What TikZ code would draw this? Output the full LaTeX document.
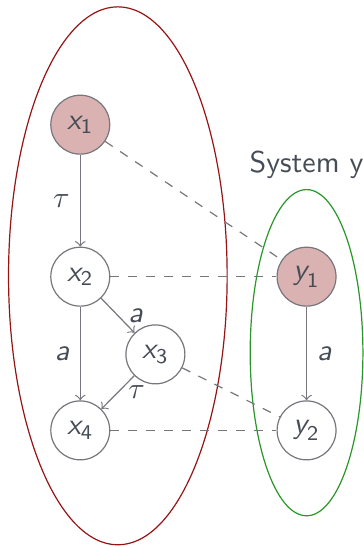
\documentclass[tikz,border=0pt]{standalone}
\usepackage{amsmath,amssymb}
\usepackage{xcolor}
\usepackage{tikz}
\usetikzlibrary{calc,arrows}

\definecolor{statefill}{RGB}{219,178,178}
\definecolor{linegray}{RGB}{118,118,124}
\definecolor{txtgray}{RGB}{70,76,86}
\definecolor{sysred}{RGB}{150,20,20}
\definecolor{sysgreen}{RGB}{40,150,40}

\newcommand{\stname}[2]{\ensuremath{\textsf{\itshape #1}_{\textsf{#2}}}}
\newcommand{\actname}[1]{\textsf{\itshape #1}}

\begin{document}
\begin{tikzpicture}[
		state/.style={circle,draw=linegray,minimum size=0.69cm,inner sep=0pt,text=txtgray},
		init/.style={state,fill=statefill},
		trans/.style={->,draw=linegray},
		rel/.style={dashed,draw=linegray},
		lbl/.style={text=txtgray}]
			\useasboundingbox (0,0) rectangle (4.262,-6.394);
			
			% the two systems
			\draw[sysred] (1.38,-3.23) ellipse (1.28cm and 3.15cm);
			\draw[sysgreen] (3.59,-4.13) ellipse (0.66cm and 1.91cm);
			\coordinate (ytop) at (3.59,-2.22);
			\node[above,lbl,font=\sffamily] (sysy) at (ytop) {System y};
			
			% states of x
			\node[init]  (x1) at (0.94,-1.46) {\stname{x}{1}};
			\node[state] (x2) at (0.94,-3.24) {\stname{x}{2}};
			\node[state] (x3) at (1.82,-4.15) {\stname{x}{3}};
			\node[state] (x4) at (0.94,-5.04) {\stname{x}{4}};
			
			% states of y
			\node[init]  (y1) at (3.59,-3.24) {\stname{y}{1}};
			\node[state] (y2) at (3.59,-5.04) {\stname{y}{2}};
			
			\draw[trans] (x1)--(x2) node[midway,left,lbl]{$\tau$};
			\draw[trans] (x2)--(x4) node[midway,left,lbl]{\actname{a}};
			\draw[trans] (x2)--(x3) node[midway,right,lbl]{\actname{a}};
			\draw[trans] (x3)--(x4) node[midway,right,lbl]{$\tau$};
			\draw[trans] (y1)--(y2) node[midway,right,lbl]{\actname{a}};
			
			\draw[rel] (x1)--(y1);
			\draw[rel] (x2)--(y1);
			\draw[rel] (x3)--(y2);
			\draw[rel] (x4)--(y2);
		\end{tikzpicture}
\end{document}
